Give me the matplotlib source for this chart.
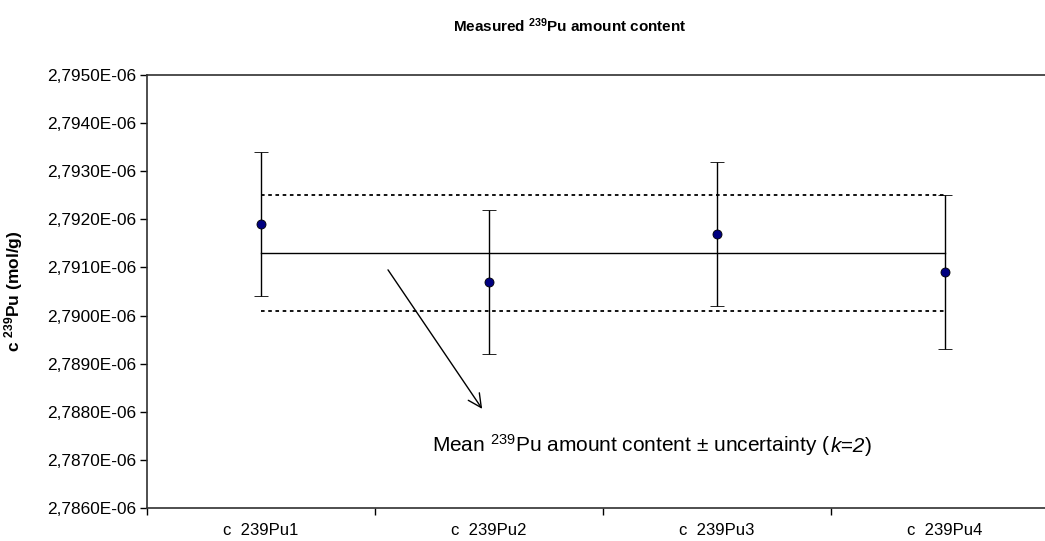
import matplotlib
matplotlib.use('Agg')
import matplotlib.pyplot as plt
from matplotlib.ticker import FuncFormatter, MultipleLocator, NullFormatter
from matplotlib.offsetbox import TextArea, HPacker, AnnotationBbox

plt.rcParams['font.family'] = ['Liberation Sans', 'DejaVu Sans']
plt.rcParams['mathtext.fontset'] = 'custom'
plt.rcParams['mathtext.rm'] = 'Liberation Sans'
plt.rcParams['mathtext.it'] = 'Liberation Sans:italic'
plt.rcParams['mathtext.bf'] = 'Liberation Sans:bold'

# data
samples = ['c  239Pu1', 'c  239Pu2', 'c  239Pu3', 'c  239Pu4']
pu_content = [2.7919e-6, 2.7907e-6, 2.7917e-6, 2.7909e-6]
pu_unc = [0.0015e-6, 0.0015e-6, 0.0015e-6, 0.0016e-6]
mean_line = [2.7913e-6, 2.7913e-6, 2.7913e-6, 2.7913e-6]
upper_line = [2.7925e-6, 2.7925e-6, 2.7925e-6, 2.7925e-6]
lower_line = [2.7901e-6, 2.7901e-6, 2.7901e-6, 2.7901e-6]

fig = plt.figure(figsize=(10.45, 5.41), dpi=100)
# plot area runs past the right edge of the picture (cropped like the original)
ax = fig.add_axes([147/1045, 33/541, 912/1045, 433/541])

x = list(range(len(samples)))

ax.plot(x, mean_line, color='black', lw=1.0)
ax.plot(x, upper_line, color='black', lw=1.3, linestyle=(0, (2, 2)))
ax.plot(x, lower_line, color='black', lw=1.3, linestyle=(0, (2, 2)))

ax.errorbar(x, pu_content, yerr=pu_unc, fmt='o', color='black', ecolor='black',
            elinewidth=1.0, capsize=5, capthick=1.0,
            markerfacecolor='#000080', markeredgecolor='black', markersize=6.5,
            markeredgewidth=0.6, zorder=3)

ax.set_xlim(-0.5, 3.5)
ax.set_ylim(2.7860e-6, 2.7950e-6)
ax.yaxis.set_major_locator(MultipleLocator(0.001e-6))
ax.yaxis.set_major_formatter(FuncFormatter(lambda v, p: f'{v:.4E}'.replace('.', ',')))

ax.set_xticks([i - 0.5 for i in range(len(samples))])
ax.xaxis.set_major_formatter(NullFormatter())
ax.set_xticks(x, minor=True)
ax.set_xticklabels(samples, minor=True)
ax.tick_params(axis='x', which='minor', length=0, pad=11, labelsize=12)
ax.tick_params(axis='x', which='major', length=5, direction='out', width=1)
ax.tick_params(axis='y', length=5, direction='out', width=1, labelsize=12.4, pad=3)

for s in ['top', 'left', 'bottom']:
    ax.spines[s].set_color('#303030')
    ax.spines[s].set_linewidth(1.2)
ax.spines['right'].set_visible(False)

ax.set_ylabel(r'c $^{\mathbf{239}}$Pu (mol/g)', fontsize=12.5, fontweight='bold')
ax.yaxis.set_label_coords(-0.134, 0.5)

fig.text(0.545, 0.952, r'Measured $^{\mathbf{239}}$Pu amount content',
         fontsize=11, fontweight='bold', ha='center', va='center')

ax.annotate('', xy=(0.97, 2.78806e-6), xytext=(0.557, 2.79095e-6),
            arrowprops=dict(arrowstyle='->', color='black', lw=1.0,
                            mutation_scale=24, shrinkA=0, shrinkB=0))

# annotation text with italic k=2
parts = [
    TextArea(r'Mean $^{239}$Pu amount content ± uncertainty (', textprops=dict(fontsize=15)),
    TextArea('k=2', textprops=dict(fontsize=15, fontstyle='italic')),
    TextArea(')', textprops=dict(fontsize=15)),
]
box = HPacker(children=parts, align='baseline', pad=0, sep=0)
ab = AnnotationBbox(box, (0.75, 2.7873e-6), xycoords='data', box_alignment=(0, 0.5),
                    frameon=False, pad=0)
ax.add_artist(ab)

fig.savefig('out.png', dpi=100)
